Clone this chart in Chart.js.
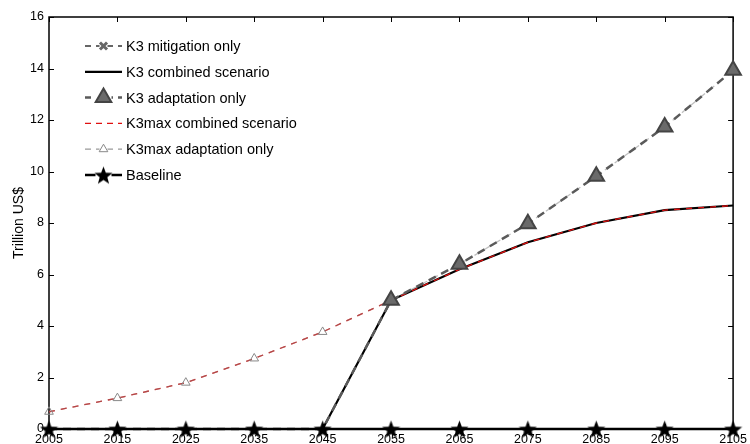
<!DOCTYPE html>
<html>
<head>
<meta charset="utf-8">
<script src="https://cdn.jsdelivr.net/npm/chart.js@4/dist/chart.umd.min.js"></script>
<style>
  html, body { margin: 0; padding: 0; background: #fff; }
  #wrap { width: 750px; height: 444px; }
</style>
</head>
<body>
<div id="wrap"><canvas id="cost-chart"></canvas></div>
<script>
const years = [2005, 2015, 2025, 2035, 2045, 2055, 2065, 2075, 2085, 2095, 2105];
const yTicks = [0, 2, 4, 6, 8, 10, 12, 14, 16];

const k3Mitigation  = [0, 0, 0, 0, 0, 0, 0, 0, 0, 0, 0];
const k3Combined    = [0, 0, 0, 0, 0, 5.0, 6.2, 7.25, 8.0, 8.5, 8.68];
const k3Adaptation  = [0, 0, 0, 0, 0, 5.0, 6.4, 7.97, 9.82, 11.73, 13.93];
const k3maxCombined = [0.67, 1.2, 1.8, 2.74, 3.77, 5.0, 6.2, 7.25, 8.0, 8.5, 8.68];
const k3maxAdapt    = [0.67, 1.2, 1.8, 2.74, 3.77, 5.0, 6.4, 7.97, 9.82, 11.73, 13.93];
const baseline      = [0, 0, 0, 0, 0, 0, 0, 0, 0, 0, 0];

const FONT = "'Liberation Sans', Arial, sans-serif";

function toPoints(arr) {
  return arr.map((v, i) => ({ x: years[i], y: v }));
}

// filled five-point star used as the baseline marker
function makeStar(size) {
  const c = document.createElement('canvas');
  c.width = size; c.height = size;
  const g = c.getContext('2d');
  const cx = size / 2, cy = size / 2 + 1, ro = size / 2, ri = ro * 0.42;
  g.beginPath();
  for (let i = 0; i < 10; i++) {
    const r = i % 2 ? ri : ro;
    const a = -Math.PI / 2 + i * Math.PI / 5;
    g.lineTo(cx + r * Math.cos(a), cy + r * Math.sin(a));
  }
  g.closePath();
  g.fillStyle = '#000';
  g.fill();
  return c;
}
const star = makeStar(19);

const series = [
  { label: 'K3 mitigation only', data: toPoints(k3Mitigation), borderColor: '#666', borderWidth: 2,
    borderDash: [7, 6], pointStyle: 'crossRot', pointRadius: 0, pointBorderColor: '#666',
    pointBorderWidth: 3, legendRadius: 5, order: 6 },
  { label: 'K3 combined scenario', data: toPoints(k3Combined), borderColor: '#000', borderWidth: 2.2,
    pointRadius: 0, order: 5 },
  { label: 'K3 adaptation only', data: toPoints(k3Adaptation), borderColor: '#5a5a5a', borderWidth: 2.5,
    borderDash: [8, 6], pointStyle: 'triangle', pointRadius: k3Adaptation.map((v, i) => i >= 5 ? 9 : 0),
    pointBackgroundColor: '#6a6a6a', pointBorderColor: '#444', pointBorderWidth: 2, legendRadius: 9, order: 2 },
  { label: 'K3max combined scenario', data: toPoints(k3maxCombined), borderColor: '#e01010', borderWidth: 1.3,
    borderDash: [6, 6], pointRadius: 0, order: 4 },
  { label: 'K3max adaptation only', data: toPoints(k3maxAdapt), borderColor: 'rgba(128,128,128,0.5)', borderWidth: 1.3,
    borderDash: [6, 6], pointStyle: 'triangle', pointRadius: 5,
    pointBackgroundColor: 'rgba(255,255,255,0)', pointBorderColor: '#888', pointBorderWidth: 1,
    legendRadius: 5, order: 3 },
  { label: 'Baseline', data: toPoints(baseline), borderColor: '#000', borderWidth: 2.5,
    pointStyle: star, pointRadius: 9, order: 1 }
];
series.forEach(s => { s.clip = false; });

// MATLAB style box with inward ticks on all four sides
const boxTicks = {
  id: 'boxTicks',
  beforeDatasetsDraw(chart) {
    const { ctx, chartArea: a, scales } = chart;
    ctx.save();
    ctx.strokeStyle = '#000';
    ctx.lineWidth = 1;
    ctx.beginPath();
    yTicks.forEach(t => {
      const y = Math.round(scales.y.getPixelForValue(t)) + 0.5;
      ctx.moveTo(a.left, y); ctx.lineTo(a.left + 5, y);
      ctx.moveTo(a.right, y); ctx.lineTo(a.right - 5, y);
    });
    years.forEach(t => {
      const x = Math.round(scales.x.getPixelForValue(t)) + 0.5;
      ctx.moveTo(x, a.top); ctx.lineTo(x, a.top + 5);
      ctx.moveTo(x, a.bottom); ctx.lineTo(x, a.bottom - 5);
    });
    ctx.stroke();
    ctx.lineWidth = 1.5;
    ctx.strokeRect(a.left, a.top, a.right - a.left, a.bottom - a.top);
    ctx.restore();
  }
};

// legend drawn inside the plot: line sample with marker in the middle
const insideLegend = {
  id: 'insideLegend',
  afterDraw(chart) {
    const { ctx } = chart;
    const x0 = 85, x1 = 122, tx = 126, y0 = 46, dy = 25.8;
    ctx.save();
    ctx.font = '14.5px ' + FONT;
    ctx.textBaseline = 'middle';
    chart.data.datasets.forEach((ds, i) => {
      const y = y0 + i * dy;
      ctx.save();
      ctx.strokeStyle = ds.label === 'K3max adaptation only' ? '#999' : ds.borderColor;
      ctx.lineWidth = ds.borderWidth;
      ctx.setLineDash(ds.borderDash ? [6, 5] : []);
      ctx.beginPath();
      ctx.moveTo(x0, y); ctx.lineTo(x1, y);
      ctx.stroke();
      ctx.setLineDash([]);
      const r = ds.pointStyle === star ? 9 : (ds.legendRadius || 0);
      if (r) {
        const mid = (x0 + x1) / 2;
        ctx.fillStyle = '#fff';
        ctx.fillRect(mid - r + 1, y - 2, 2 * r - 2, 4);
        ctx.fillStyle = ds.pointBackgroundColor || '#000';
        ctx.strokeStyle = ds.pointBorderColor || '#000';
        ctx.lineWidth = ds.pointBorderWidth || 1;
        Chart.helpers.drawPoint(ctx, {
          pointStyle: ds.pointStyle, radius: r, borderWidth: ds.pointBorderWidth || 1, rotation: 0
        }, mid, y);
      }
      ctx.restore();
      ctx.fillStyle = '#000';
      ctx.fillText(ds.label, tx, y + 1);
    });
    ctx.restore();
  }
};

new Chart(document.getElementById('cost-chart'), {
  type: 'line',
  data: { datasets: series },
  options: {
    responsive: true,
    maintainAspectRatio: false,
    animation: false,
    layout: { padding: { top: 17, right: 13, left: 0, bottom: 0 } },
    elements: { line: { tension: 0 } },
    plugins: {
      legend: { display: false },
      tooltip: { enabled: false }
    },
    scales: {
      x: {
        type: 'linear',
        min: 2005,
        max: 2105,
        afterBuildTicks: s => { s.ticks = years.map(v => ({ value: v })); },
        grid: { display: false, drawTicks: false },
        border: { display: false },
        ticks: { color: '#000', font: { family: FONT, size: 12.5 }, padding: 3, maxRotation: 0,
          autoSkip: false, callback: v => String(v) },
        afterFit: s => { s.height = 15; }
      },
      y: {
        min: 0,
        max: 16,
        afterBuildTicks: s => { s.ticks = yTicks.map(v => ({ value: v })); },
        grid: { display: false, drawTicks: false },
        border: { display: false },
        ticks: { color: '#000', font: { family: FONT, size: 12.5 }, padding: 5 },
        title: { display: true, text: 'Trillion US$', color: '#000', font: { family: FONT, size: 14 },
          padding: { top: 11, bottom: 0 } },
        afterFit: s => { s.width = 49; }
      }
    }
  },
  plugins: [boxTicks, insideLegend]
});
</script>
</body>
</html>
